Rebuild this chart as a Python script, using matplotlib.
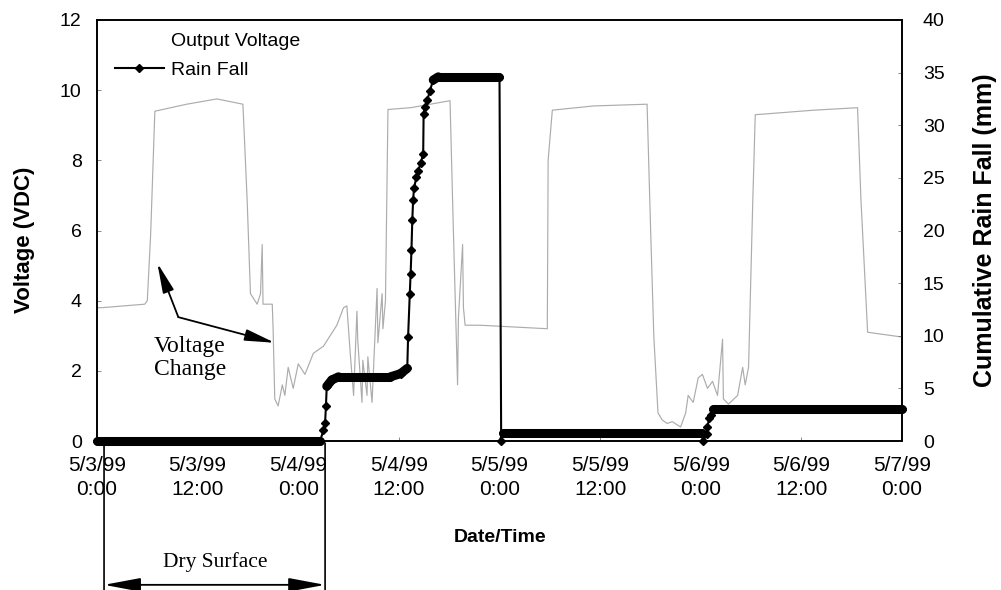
import numpy as np
import matplotlib
matplotlib.use("Agg")
import matplotlib.pyplot as plt

plt.rcParams['font.family'] = ['Liberation Sans', 'DejaVu Sans']

# hours after 5/3/99 0:00
volt_hours = [0, 0.6, 5.7, 6.0, 6.4, 6.9, 10.7, 14.3, 17.4, 17.9, 18.3, 19.1, 19.5, 19.7, 19.8,
              20.9, 21.0, 21.2, 21.6, 22.1, 22.4, 22.8, 23.4, 24.0, 24.8, 25.8, 27.0, 27.8, 28.6,
              29.4, 29.8, 30.2, 30.6, 31.0, 31.1, 31.6, 31.7, 32.2, 32.3, 32.8, 33.4, 33.5, 34.0,
              34.1, 34.4, 34.7, 37.4, 42.1, 42.5, 43.0, 43.1, 43.6, 43.7, 43.9, 45.7, 53.7, 53.8,
              54.3, 59.2, 65.6, 66.0, 66.4, 66.9, 67.4, 68.0, 68.6, 69.6, 70.2, 70.5, 71.1, 71.7,
              72.2, 72.8, 73.4, 74.0, 74.6, 74.7, 75.3, 76.4, 77.0, 77.3, 77.7, 78.2, 78.5, 85.5,
              90.7, 91.1, 91.9, 95.8]
voltage = [3.8, 3.8, 3.9, 4.0, 5.9, 9.4, 9.6, 9.75, 9.6, 6.9, 4.2, 3.9, 4.2, 5.6, 3.9,
           3.9, 3.2, 1.2, 1.0, 1.6, 1.3, 2.1, 1.5, 2.2, 1.9, 2.5, 2.7, 3.0, 3.3,
           3.8, 3.85, 2.5, 1.3, 3.7, 2.85, 1.1, 2.3, 1.3, 2.4, 1.1, 4.35, 2.8, 4.2,
           3.2, 4.0, 9.45, 9.5, 9.7, 6.0, 1.6, 3.5, 5.6, 3.8, 3.3, 3.3, 3.2, 8.0,
           9.43, 9.55, 9.6, 6.2, 3.0, 0.8, 0.6, 0.5, 0.55, 0.4, 0.8, 1.3, 1.1, 1.8,
           1.9, 1.5, 1.7, 1.3, 2.9, 1.2, 1.05, 1.3, 2.1, 1.6, 2.1, 6.8, 9.3, 9.43,
           9.5, 6.9, 3.1, 2.97]

rain_hours = [0, 26.6, 27.0, 27.2, 27.3, 27.4, 28.0, 28.8, 35.0, 36.2, 37.0, 37.1, 37.3, 37.4,
              37.5, 37.6, 37.7, 37.8, 38.1, 38.3, 38.6, 38.9, 38.95, 39.1, 39.4, 39.7, 40.1, 40.7,
              48.0, 48.2, 48.4, 72.2, 72.3, 72.7, 72.8, 73.0, 73.2, 73.5, 96.0]
rain_mm = [0, 0, 1.0, 1.7, 3.3, 5.2, 5.8, 6.1, 6.1, 6.4, 6.9, 9.9, 14.0, 15.9,
           18.1, 21.0, 22.9, 24.0, 25.1, 25.7, 26.4, 27.3, 31.1, 31.7, 32.4, 33.3, 34.3, 34.6,
           34.6, 0, 0.75, 0.75, 0, 0.7, 1.3, 2.2, 2.5, 3.0, 3.0]

tick_hours = [0, 12, 24, 36, 48, 60, 72, 84, 96]
tick_labels = ["5/3/99\n0:00", "5/3/99\n12:00", "5/4/99\n0:00", "5/4/99\n12:00", "5/5/99\n0:00",
               "5/5/99\n12:00", "5/6/99\n0:00", "5/6/99\n12:00", "5/7/99\n0:00"]

fig = plt.figure(figsize=(10.01, 5.9), dpi=100)
ax = fig.add_axes([97/1001, 149/590, 805/1001, 421/590])
ax2 = ax.twinx()

lv, = ax.plot(volt_hours, voltage, color='#acacac', lw=0.85, label='Output Voltage')

# dense logger markers merge into a thick band where the rain total is (nearly) flat
for i in range(len(rain_hours) - 1):
    dh = rain_hours[i+1] - rain_hours[i]
    if dh > 0 and abs(rain_mm[i+1] - rain_mm[i]) / dh < 1.2:
        ax2.plot(rain_hours[i:i+2], rain_mm[i:i+2], color='black', lw=6.5,
                 solid_capstyle='round', clip_on=False, zorder=3)
lr, = ax2.plot(rain_hours, rain_mm, color='black', lw=1.5, marker='D', ms=4.5,
               label='Rain Fall', clip_on=False, zorder=4)

ax.set_xlim(0, 96)
ax.set_ylim(0, 12)
ax2.set_ylim(0, 40)
ax.set_xticks(tick_hours)
ax.set_xticklabels(tick_labels, linespacing=1.3)
ax.set_yticks(range(0, 13, 2))
ax2.set_yticks(range(0, 41, 5))

ax.tick_params(axis='x', direction='in', length=3, width=0.6, color='#777777', labelsize=15, pad=11)
ax.tick_params(axis='y', direction='in', length=3, width=0.6, color='#777777', labelsize=14, pad=11)
ax2.tick_params(axis='y', direction='in', length=3, width=0.6, color='#777777', labelsize=14, pad=15)
for a in (ax, ax2):
    for s in a.spines.values():
        s.set_linewidth(1.2)
        s.set_color('black')

fig.text(25/1001, 1 - 240/590, 'Voltage (VDC)', rotation=90, fontsize=16, fontweight='bold',
         ha='center', va='center')
fig.text(985/1001, 1 - 230/590, 'Cumulative Rain Fall (mm)', rotation=90, fontsize=18,
         fontweight='bold', ha='center', va='center')
fig.text(500/1001, 1 - 538/590, 'Date/Time', fontsize=14, fontweight='bold', ha='center', va='center')

leg = ax2.legend([lv, lr], ['Output Voltage', 'Rain Fall'], loc='upper left',
                 bbox_to_anchor=(18/805, 1 - 12/421), frameon=False, fontsize=14,
                 handlelength=2.5, handletextpad=0.4, labelspacing=0.6, borderpad=0,
                 borderaxespad=0)
leg.get_lines()[0].set_visible(False)

# annotations
serif = ['Liberation Serif', 'DejaVu Serif']
ax.text(11.1, 2.37, 'Voltage\nChange', family=serif, fontsize=17, ha='center', va='center',
        linespacing=1.1)
arrow = dict(arrowstyle='-|>,head_length=1.3,head_width=0.25', color='black', lw=1.3,
             mutation_scale=14, shrinkA=0, shrinkB=0)
ax.annotate('', xy=(7.2, 5.07), xytext=(9.7, 3.53), arrowprops=arrow)
ax.annotate('', xy=(21.2, 2.8), xytext=(9.7, 3.53), arrowprops=arrow)

ax.annotate('', xy=(0.84, -0.06), xytext=(0.84, -4.3), annotation_clip=False,
            arrowprops=dict(arrowstyle='-', color='black', lw=1.2, shrinkA=0, shrinkB=0))
ax.annotate('', xy=(27.2, -0.06), xytext=(27.2, -4.3), annotation_clip=False,
            arrowprops=dict(arrowstyle='-', color='black', lw=1.2, shrinkA=0, shrinkB=0))
ax.annotate('', xy=(0.84, -4.1), xytext=(27.2, -4.1), annotation_clip=False,
            arrowprops=dict(arrowstyle='<|-|>,head_length=1.6,head_width=0.3', color='black',
                            lw=1.3, mutation_scale=14, shrinkA=0, shrinkB=0))
ax.text(14.1, -3.45, 'Dry Surface', family=serif, fontsize=15.5, ha='center', va='center')

fig.savefig('out.png', dpi=100)
